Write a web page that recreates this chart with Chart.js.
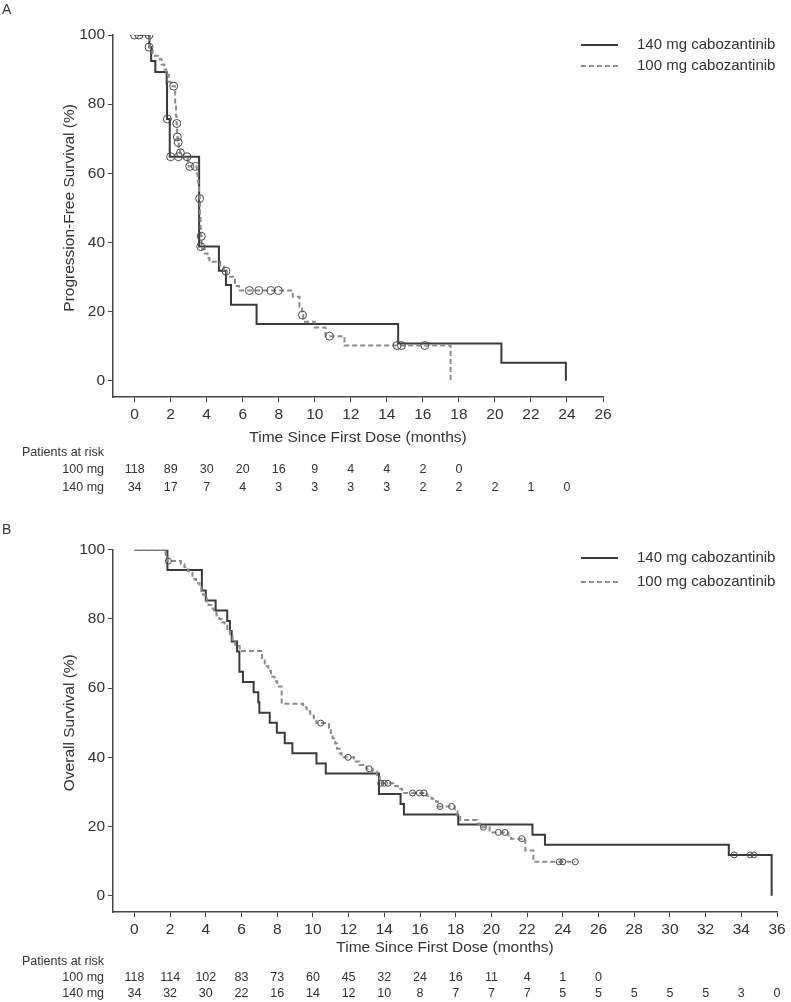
<!DOCTYPE html>
<html>
<head>
<meta charset="utf-8">
<script src="https://cdn.jsdelivr.net/npm/chart.js@4.4.0/dist/chart.umd.min.js"></script>
<style>
  body { margin: 0; background: #fff; }
  #wrap { position: relative; width: 791px; height: 1002px; }
  canvas { position: absolute; left: 0; }
</style>
</head>
<body>
<div id="wrap">
  <canvas id="pfsChart" width="791" height="500" style="top:0"></canvas>
  <canvas id="osChart" width="791" height="502" style="top:500px"></canvas>
</div>
<script>
const groups = ['140 mg cabozantinib', '100 mg cabozantinib'];
const riskLabels = ['100 mg', '140 mg'];

// Panel A - progression-free survival
const pfs140Time = [0, 0.82, 0.92, 1.15, 1.78, 1.8, 1.95, 3.58, 4.68, 5.07, 5.35, 6.77, 14.63, 20.36, 23.94];
const pfs140Surv = [100, 96.5, 92.5, 89.3, 86.0, 75.7, 64.8, 38.8, 31.8, 27.7, 22.0, 16.4, 10.8, 5.2, 0];
const pfs140CensTime = [0.8, 1.82, 2.0, 2.43, 2.91, 3.67];
const pfs140CensSurv = [96.5, 75.7, 64.8, 64.8, 64.8, 38.8];

const pfs100Time = [0, 0.85, 1.0, 1.4, 1.5, 1.65, 1.75, 1.9, 2.0, 2.25, 2.3, 2.33, 2.36, 2.4, 2.45, 2.52, 2.7, 2.95, 3.0,
  3.45, 3.5, 3.54, 3.57, 3.6, 3.63, 3.66, 3.68, 3.72, 3.75, 3.9, 4.05, 4.15, 4.75, 4.95, 5.12, 5.57, 5.8,
  8.78, 9.15, 9.3, 9.36, 10.0, 10.6, 11.65, 17.54];
const pfs100Surv = [100, 95.5, 94.0, 93.0, 91.5, 90.0, 88.5, 86.5, 85.2, 80.0, 76.5, 74.4, 70.5, 68.9, 67.5, 65.9, 64.5, 63.5, 62.0,
  60.0, 58.0, 56.0, 54.5, 52.7, 48.0, 44.0, 41.8, 39.0, 38.0, 36.8, 35.5, 34.4, 33.0, 31.7, 30.1, 27.4, 26.1,
  24.3, 21.4, 19.0, 17.1, 15.4, 12.9, 10.2, 0];
const pfs100CensTime = [0, 0.24, 0.8, 2.17, 2.34, 2.37, 2.42, 2.54, 3.06, 3.38, 3.61, 3.7, 5.07, 6.37, 6.89, 7.56, 7.98, 9.32, 10.82, 14.57, 14.81, 16.11];
const pfs100CensSurv = [100, 100, 100, 85.2, 74.4, 70.5, 68.9, 65.9, 62.0, 62.0, 52.7, 41.8, 31.7, 26.1, 26.1, 26.1, 26.1, 19.0, 12.9, 10.2, 10.2, 10.2];

const pfsXTicks = [0, 2, 4, 6, 8, 10, 12, 14, 16, 18, 20, 22, 24, 26];
const pfsRisk100 = [118, 89, 30, 20, 16, 9, 4, 4, 2, 0];
const pfsRisk140 = [34, 17, 7, 4, 3, 3, 3, 3, 2, 2, 2, 1, 0];

// Panel B - overall survival
const os140Time = [0, 1.85, 3.78, 4.0, 4.55, 5.2, 5.35, 5.45, 5.75, 5.88, 6.08, 6.68, 6.94, 7.0, 7.58, 7.98, 8.42, 8.85,
  10.2, 10.72, 13.7, 14.91, 15.1, 18.14, 22.3, 23.0, 33.3, 35.7];
const os140Surv = [100, 94.1, 88.2, 85.3, 82.4, 79.4, 76.5, 73.5, 70.6, 64.7, 61.8, 58.8, 55.9, 52.9, 50.0, 47.1, 44.1, 41.2,
  38.2, 35.3, 29.4, 26.5, 23.5, 20.6, 17.6, 14.7, 11.8, 0];
const os140CensTime = [33.6, 34.5, 34.7];
const os140CensSurv = [11.8, 11.8, 11.8];

const os100Time = [0, 1.75, 1.85, 2.6, 2.8, 3.0, 3.25, 3.35, 3.45, 3.65, 3.75, 3.85, 3.95, 4.05, 4.15, 4.3, 4.45, 4.6, 4.75,
  4.9, 5.05, 5.2, 5.35, 5.5, 5.65, 5.9, 7.15, 7.3, 7.5, 7.65, 7.85, 8.0, 8.25, 9.45, 9.65, 9.85, 10.05, 10.2, 10.9, 11.0,
  11.1, 11.25, 11.35, 11.5, 11.6, 12.3, 12.6, 13.0, 13.35, 13.6, 13.75, 14.5, 14.75, 15.0, 16.4, 16.65, 16.9, 17.0, 17.95,
  18.1, 18.25, 19.2, 19.35, 19.9, 20.95, 21.1, 21.9, 22.35, 24.7];
const os100Surv = [100, 98.3, 96.7, 95.8, 95.0, 93.8, 92.5, 91.5, 90.3, 89.0, 88.0, 87.0, 86.0, 85.0, 84.0, 83.0, 82.0, 81.0, 80.0,
  79.0, 78.0, 76.5, 75.0, 73.5, 72.2, 70.7, 68.0, 66.3, 65.0, 63.3, 62.0, 60.5, 55.5, 54.5, 53.3, 52.1, 50.9, 49.9, 48.5, 47.0,
  45.5, 44.0, 42.5, 41.2, 40.0, 38.8, 37.8, 36.7, 35.8, 34.4, 32.5, 31.7, 30.9, 29.7, 28.8, 28.0, 27.2, 25.8, 24.5,
  23.2, 21.9, 20.9, 19.8, 18.3, 17.4, 16.5, 13.1, 9.8, 9.8];
const os100CensTime = [1.9, 10.44, 11.97, 13.15, 13.8, 14.0, 14.2, 15.58, 15.96, 16.22, 17.12, 17.77, 19.55, 20.39, 20.76, 21.7, 23.8, 24.0, 24.7];
const os100CensSurv = [96.7, 49.9, 40.0, 36.7, 32.5, 32.5, 32.5, 29.7, 29.7, 29.7, 25.8, 25.8, 19.8, 18.3, 18.3, 16.5, 9.8, 9.8, 9.8];

const osXTicks = [0, 2, 4, 6, 8, 10, 12, 14, 16, 18, 20, 22, 24, 26, 28, 30, 32, 34, 36];
const osRisk100 = [118, 114, 102, 83, 73, 60, 45, 32, 24, 16, 11, 4, 1, 0];
const osRisk140 = [34, 32, 30, 22, 16, 14, 12, 10, 8, 7, 7, 7, 5, 5, 5, 5, 5, 3, 0];

const yTicks = [0, 20, 40, 60, 80, 100];

const fontFamily = '"Liberation Sans", Arial, sans-serif';
const textColor = '#333';
const solidColor = '#3a3a3a';
const dashColor = '#8c8c8c';
const dashPattern = [5, 3];

function toPoints(xs, ys) {
  return xs.map((x, i) => ({ x: x, y: ys[i] }));
}

function extrasPlugin(cfg) {
  return {
    id: 'extras',
    afterDraw(chart) {
      const ctx = chart.ctx;
      const xs = chart.scales.x, ys = chart.scales.y;
      ctx.save();
      ctx.fillStyle = textColor;

      ctx.font = '14px ' + fontFamily;
      ctx.textAlign = 'left';
      ctx.textBaseline = 'top';
      ctx.fillText(cfg.letter, 2, cfg.letterY);

      // y title centred on 0-100
      ctx.save();
      ctx.font = '15.5px ' + fontFamily;
      ctx.translate(70, ys.getPixelForValue(50));
      ctx.rotate(-Math.PI / 2);
      ctx.textAlign = 'center';
      ctx.textBaseline = 'middle';
      ctx.fillText(cfg.yTitle, 0, 0);
      ctx.restore();

      // legend
      ctx.font = '15px ' + fontFamily;
      ctx.textAlign = 'left';
      ctx.textBaseline = 'middle';
      cfg.legendY.forEach((ly, i) => {
        ctx.beginPath();
        ctx.lineWidth = 2;
        ctx.strokeStyle = i === 0 ? solidColor : dashColor;
        ctx.setLineDash(i === 0 ? [] : dashPattern);
        ctx.moveTo(581, ly);
        ctx.lineTo(618, ly);
        ctx.stroke();
        ctx.setLineDash([]);
        ctx.fillText(groups[i], 637, ly);
      });

      // patients at risk
      ctx.font = '12.5px ' + fontFamily;
      ctx.textAlign = 'right';
      ctx.fillText('Patients at risk', 104, cfg.riskY[0]);
      ctx.fillText(riskLabels[0], 104, cfg.riskY[1]);
      ctx.fillText(riskLabels[1], 104, cfg.riskY[2]);
      ctx.textAlign = 'center';
      cfg.risk100.forEach((n, i) => ctx.fillText(String(n), xs.getPixelForValue(cfg.ticks[i]), cfg.riskY[1]));
      cfg.risk140.forEach((n, i) => ctx.fillText(String(n), xs.getPixelForValue(cfg.ticks[i]), cfg.riskY[2]));
      ctx.restore();
    }
  };
}

function makeChart(id, cfg) {
  const ctx = document.getElementById(id);
  return new Chart(ctx, {
    type: 'line',
    data: {
      datasets: [
        {
          label: 'censored 140', data: toPoints(cfg.c140t, cfg.c140s), showLine: false,
          pointStyle: 'circle', pointRadius: cfg.markR, pointBorderWidth: 1,
          pointBorderColor: '#4a4a4a', pointBackgroundColor: 'rgba(255,255,255,0)'
        },
        {
          label: 'censored 100', data: toPoints(cfg.c100t, cfg.c100s), showLine: false,
          pointStyle: 'circle', pointRadius: cfg.markR, pointBorderWidth: 1,
          pointBorderColor: '#4a4a4a', pointBackgroundColor: 'rgba(255,255,255,0)'
        },
        {
          label: groups[1], data: toPoints(cfg.t100, cfg.s100), stepped: true,
          borderColor: dashColor, borderWidth: 2, borderDash: dashPattern, pointRadius: 0, fill: false
        },
        {
          label: groups[0], data: toPoints(cfg.t140, cfg.s140), stepped: true,
          borderColor: solidColor, borderWidth: 2, pointRadius: 0, fill: false
        }
      ]
    },
    options: {
      responsive: false,
      animation: false,
      layout: { padding: { top: cfg.top, right: 791 - cfg.right, left: 0, bottom: 0 } },
      plugins: { legend: { display: false }, tooltip: { enabled: false } },
      scales: {
        x: {
          type: 'linear', min: -1.2, max: cfg.xMax,
          afterBuildTicks: s => { s.ticks = cfg.ticks.map(v => ({ value: v })); },
          afterFit: s => { s.height = cfg.height - cfg.bottom; },
          grid: { drawOnChartArea: false, tickLength: 5, color: '#444', lineWidth: 1 },
          border: { color: '#444', width: 1.5 },
          ticks: { color: textColor, padding: 3, font: { family: fontFamily, size: 15.5 } },
          title: {
            display: true, text: 'Time Since First Dose (months)', color: textColor,
            font: { family: fontFamily, size: 15.5 },
            padding: { top: 0, bottom: cfg.height - cfg.xTitleY - 9.3 }
          }
        },
        y: {
          min: -4.7, max: 100,
          afterBuildTicks: s => { s.ticks = yTicks.map(v => ({ value: v })); },
          afterFit: s => { s.width = 113; },
          grid: { drawOnChartArea: false, tickLength: 5, color: '#444', lineWidth: 1 },
          border: { color: '#444', width: 1.5 },
          ticks: { color: textColor, padding: 3, font: { family: fontFamily, size: 15.5 } }
        }
      }
    },
    plugins: [extrasPlugin(cfg)]
  });
}

makeChart('pfsChart', {
  t140: pfs140Time, s140: pfs140Surv, c140t: pfs140CensTime, c140s: pfs140CensSurv,
  t100: pfs100Time, s100: pfs100Surv, c100t: pfs100CensTime, c100s: pfs100CensSurv,
  ticks: pfsXTicks, risk100: pfsRisk100, risk140: pfsRisk140,
  xMax: 26, right: 603, top: 35, bottom: 397, height: 500, xTitleY: 438, markR: 4,
  letter: 'A', letterY: 3, yTitle: 'Progression-Free Survival (%)',
  legendY: [45, 66], riskY: [453, 470, 488]
});

makeChart('osChart', {
  t140: os140Time, s140: os140Surv, c140t: os140CensTime, c140s: os140CensSurv,
  t100: os100Time, s100: os100Surv, c100t: os100CensTime, c100s: os100CensSurv,
  ticks: osXTicks, risk100: osRisk100, risk140: osRisk140,
  xMax: 36, right: 777, top: 49.7, bottom: 412, height: 502, xTitleY: 448, markR: 3,
  letter: 'B', letterY: 23, yTitle: 'Overall Survival (%)',
  legendY: [58, 82], riskY: [462, 478, 494]
});
</script>
</body>
</html>
